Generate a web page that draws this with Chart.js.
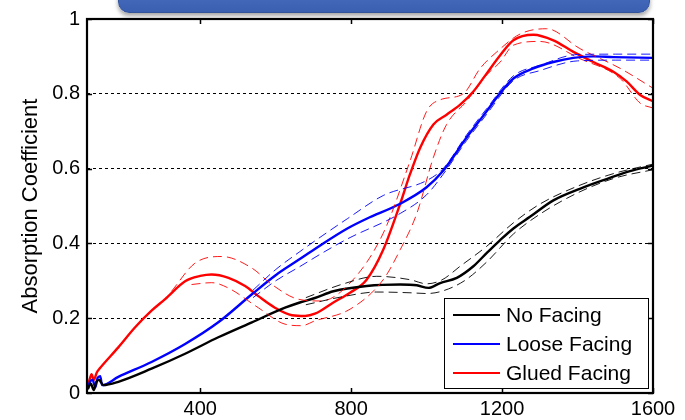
<!DOCTYPE html>
<html>
<head>
<meta charset="utf-8">
<script src="https://cdn.jsdelivr.net/npm/chart.js@4.4.1/dist/chart.umd.min.js"></script>
<style>
  html, body { margin: 0; padding: 0; background: #ffffff; overflow: hidden; }
  #wrap { position: relative; width: 685px; height: 420px; }
  #banner {
    position: absolute; left: 118px; top: -22px; width: 530px; height: 33px;
    border-radius: 11px; border: 1px solid #34549a;
    background: linear-gradient(#6a8ad6, #4268ba 60%, #3b5fb0);
    box-shadow: 0 3px 4px rgba(0,0,0,0.35);
  }
  canvas { position: absolute; left: 0; top: 0; }
</style>
</head>
<body>
<div id="wrap">
  <canvas id="c" width="685" height="420"></canvas>
  <div id="banner"></div>
</div>
<script>
// ---- data ----
const seriesNames = ["No Facing", "Loose Facing", "Glued Facing"];
const xTicks = [400, 800, 1200, 1600];
const yTicks = [0, 0.2, 0.4, 0.6, 0.8, 1];

const noFacingX = [102, 110, 118, 125, 132, 143, 183, 271, 360, 448, 537, 625, 664, 704, 753, 841, 930, 974, 1005, 1036, 1080, 1124, 1159, 1195, 1230, 1274, 1336, 1406, 1477, 1539, 1600];
const noFacingY = [0.01, 0.025, 0.008, 0.03, 0.035, 0.021, 0.030, 0.065, 0.105, 0.149, 0.189, 0.228, 0.242, 0.254, 0.272, 0.286, 0.290, 0.288, 0.281, 0.294, 0.308, 0.339, 0.374, 0.409, 0.440, 0.471, 0.515, 0.546, 0.572, 0.593, 0.608];
const noFacingUpX = [680, 780, 868, 956, 1000, 1040, 1089, 1159, 1230, 1300, 1400, 1500, 1600];
const noFacingUpY = [0.255, 0.292, 0.312, 0.303, 0.292, 0.302, 0.339, 0.392, 0.455, 0.505, 0.553, 0.588, 0.612];
const noFacingLoX = [680, 780, 868, 956, 1000, 1040, 1100, 1159, 1230, 1300, 1400, 1500, 1600];
const noFacingLoY = [0.236, 0.258, 0.270, 0.268, 0.266, 0.272, 0.300, 0.350, 0.425, 0.478, 0.535, 0.575, 0.597];

const looseX = [102, 108, 115, 122, 128, 135, 140, 183, 271, 360, 448, 537, 600, 664, 723, 790, 841, 930, 1000, 1044, 1106, 1159, 1195, 1230, 1283, 1336, 1389, 1442, 1495, 1600];
const looseY = [0.015, 0.03, 0.035, 0.015, 0.04, 0.045, 0.021, 0.043, 0.083, 0.131, 0.189, 0.264, 0.315, 0.358, 0.398, 0.440, 0.466, 0.506, 0.550, 0.594, 0.683, 0.753, 0.802, 0.841, 0.868, 0.885, 0.896, 0.900, 0.898, 0.896];
const looseUpX = [540, 600, 664, 723, 790, 885, 1000, 1044, 1106, 1159, 1230, 1300, 1400, 1500, 1600];
const looseUpY = [0.275, 0.330, 0.378, 0.420, 0.466, 0.528, 0.568, 0.600, 0.690, 0.760, 0.848, 0.876, 0.905, 0.906, 0.906];
const looseLoX = [540, 600, 664, 723, 790, 930, 1000, 1044, 1106, 1159, 1230, 1300, 1400, 1500, 1600];
const looseLoY = [0.255, 0.300, 0.338, 0.374, 0.412, 0.480, 0.530, 0.585, 0.675, 0.745, 0.835, 0.862, 0.888, 0.890, 0.890];

const gluedX = [102, 108, 112, 118, 126, 134, 183, 227, 271, 307, 360, 400, 430, 475, 519, 554, 598, 643, 678, 704, 753, 797, 841, 885, 930, 956, 983, 1018, 1053, 1089, 1124, 1159, 1195, 1230, 1283, 1336, 1389, 1442, 1495, 1530, 1566, 1600];
const gluedY = [0.02, 0.04, 0.05, 0.035, 0.055, 0.066, 0.122, 0.175, 0.220, 0.251, 0.299, 0.313, 0.317, 0.308, 0.286, 0.259, 0.228, 0.208, 0.206, 0.212, 0.242, 0.268, 0.303, 0.383, 0.506, 0.585, 0.656, 0.718, 0.744, 0.771, 0.806, 0.854, 0.903, 0.943, 0.958, 0.943, 0.912, 0.885, 0.859, 0.833, 0.797, 0.780];
const gluedUpX = [324, 386, 457, 537, 590, 659, 720, 797, 885, 956, 1000, 1036, 1097, 1142, 1186, 1248, 1318, 1406, 1513, 1600];
const gluedUpY = [0.272, 0.347, 0.365, 0.334, 0.290, 0.251, 0.246, 0.294, 0.427, 0.620, 0.753, 0.784, 0.800, 0.868, 0.912, 0.960, 0.974, 0.921, 0.868, 0.815];
const gluedLoX = [377, 430, 474, 554, 625, 669, 704, 797, 885, 930, 974, 1018, 1053, 1106, 1159, 1195, 1230, 1300, 1406, 1513, 1566, 1600];
const gluedLoY = [0.290, 0.295, 0.281, 0.228, 0.184, 0.180, 0.193, 0.224, 0.303, 0.383, 0.480, 0.630, 0.718, 0.780, 0.850, 0.885, 0.930, 0.940, 0.894, 0.841, 0.775, 0.762];

const colors = ["#000000", "#0000ff", "#ff0000"];

// ---- build datasets ----
function pts(xs, ys) { return xs.map((x, i) => ({ x: x, y: ys[i] })); }
function mainSet(label, xs, ys, color) {
  return { label: label, data: pts(xs, ys), borderColor: color, borderWidth: 2.4,
           pointRadius: 0, fill: false, cubicInterpolationMode: 'monotone', isMain: true };
}
function boundSet(label, xs, ys, color) {
  return { label: label, data: pts(xs, ys), borderColor: color, borderWidth: 0.9,
           borderDash: [9, 5], pointRadius: 0, fill: false, cubicInterpolationMode: 'monotone', isMain: false };
}
const datasets = [
  boundSet(seriesNames[0] + " upper", noFacingUpX, noFacingUpY, colors[0]),
  boundSet(seriesNames[0] + " lower", noFacingLoX, noFacingLoY, colors[0]),
  boundSet(seriesNames[1] + " upper", looseUpX, looseUpY, colors[1]),
  boundSet(seriesNames[1] + " lower", looseLoX, looseLoY, colors[1]),
  boundSet(seriesNames[2] + " upper", gluedUpX, gluedUpY, colors[2]),
  boundSet(seriesNames[2] + " lower", gluedLoX, gluedLoY, colors[2]),
  mainSet(seriesNames[0], noFacingX, noFacingY, colors[0]),
  mainSet(seriesNames[1], looseX, looseY, colors[1]),
  mainSet(seriesNames[2], gluedX, gluedY, colors[2])
];

// ---- frame, inward ticks and legend ----
const framePlugin = {
  id: 'frame',
  afterDatasetsDraw(chart) {
    const { ctx, chartArea: a, scales } = chart;
    ctx.save();
    ctx.setLineDash([]);
    ctx.strokeStyle = '#000';
    ctx.lineWidth = 1.5;
    const tl = 5;
    xTicks.forEach(v => {
      const px = Math.round(scales.x.getPixelForValue(v)) + 0.5;
      ctx.beginPath();
      ctx.moveTo(px, a.bottom); ctx.lineTo(px, a.bottom - tl);
      ctx.moveTo(px, a.top); ctx.lineTo(px, a.top + tl);
      ctx.stroke();
    });
    yTicks.forEach(v => {
      const py = Math.round(scales.y.getPixelForValue(v)) + 0.5;
      ctx.beginPath();
      ctx.moveTo(a.left, py); ctx.lineTo(a.left + tl, py);
      ctx.moveTo(a.right, py); ctx.lineTo(a.right - tl, py);
      ctx.stroke();
    });
    ctx.lineWidth = 2.2;
    ctx.strokeRect(a.left, a.top, a.right - a.left, a.bottom - a.top);

    // legend box (inside lower right)
    const bw = 204, bh = 90;
    const bx = a.right - 5 - bw, by = a.bottom - 5 - bh;
    ctx.fillStyle = '#fff';
    ctx.fillRect(bx, by, bw, bh);
    ctx.lineWidth = 1;
    ctx.strokeStyle = '#000';
    ctx.strokeRect(bx + 0.5, by + 0.5, bw, bh);
    ctx.font = '21px "Liberation Sans", Arial, sans-serif';
    ctx.textBaseline = 'middle';
    ctx.textAlign = 'left';
    const mains = chart.data.datasets.filter(d => d.isMain);
    mains.forEach((d, i) => {
      const ly = by + 17 + i * 29;
      ctx.strokeStyle = d.borderColor;
      ctx.lineWidth = 2;
      ctx.beginPath();
      ctx.moveTo(bx + 9, ly); ctx.lineTo(bx + 56, ly);
      ctx.stroke();
      ctx.fillStyle = '#000';
      ctx.fillText(d.label, bx + 62, ly + 1);
    });
    ctx.restore();
  }
};

Chart.defaults.font.family = '"Liberation Sans", Arial, sans-serif';
Chart.defaults.color = '#000';

new Chart(document.getElementById('c'), {
  type: 'line',
  data: { datasets: datasets },
  options: {
    responsive: false,
    animation: false,
    devicePixelRatio: 1,
    layout: { padding: { left: 0, right: 32, top: 15, bottom: 0 } },
    plugins: { legend: { display: false }, tooltip: { enabled: false } },
    scales: {
      x: {
        type: 'linear', min: 100, max: 1600,
        afterBuildTicks: s => { s.ticks = xTicks.map(v => ({ value: v })); },
        afterFit: s => { s.height = 27; },
        grid: { display: false, drawTicks: false },
        border: { display: false },
        ticks: { font: { size: 20 }, padding: 4, maxRotation: 0, autoSkip: false,
                 callback: v => String(v) }
      },
      y: {
        min: 0, max: 1,
        afterBuildTicks: s => { s.ticks = yTicks.map(v => ({ value: v })); },
        afterFit: s => { s.width = 87; },
        grid: {
          drawTicks: false, lineWidth: 1,
          color: c => (c.tick && (c.tick.value === 0 || c.tick.value === 1)) ? 'rgba(0,0,0,0)' : '#000'
        },
        border: { display: false, dash: [3, 3] },
        ticks: { font: { size: 20 }, padding: 7, autoSkip: false,
                 callback: v => String(Number(v.toFixed(1))) },
        title: { display: true, text: 'Absorption Coefficient', font: { size: 22 },
                 padding: { top: 18, bottom: 0 } }
      }
    }
  },
  plugins: [framePlugin]
});
</script>
</body>
</html>
